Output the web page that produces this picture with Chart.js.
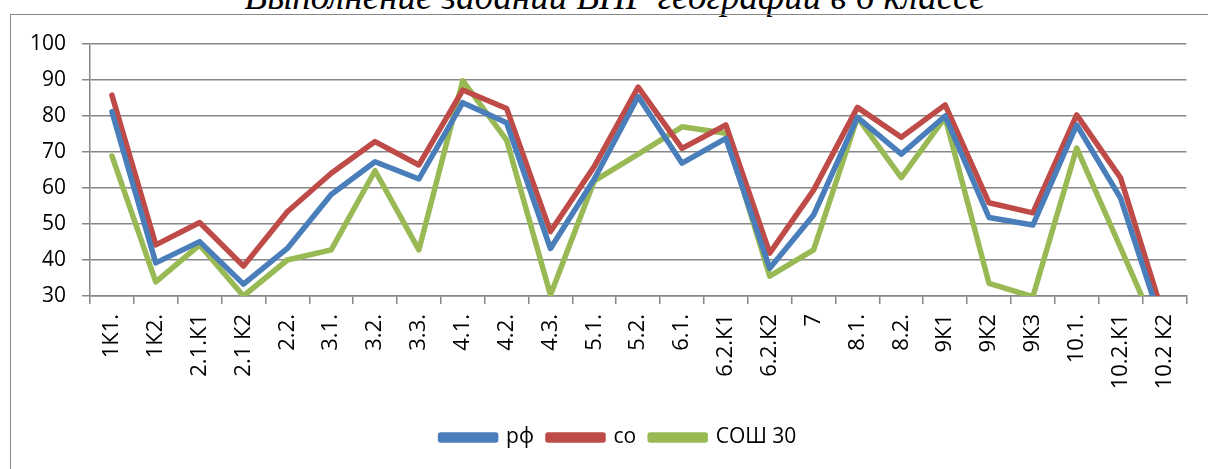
<!DOCTYPE html>
<html>
<head>
<meta charset="utf-8">
<script src="https://cdn.jsdelivr.net/npm/chart.js@4"></script>
<style>
  body { margin: 0; background: #fff; overflow: hidden; }
  #title {
    position: absolute; left: 0; width: 1230px; top: -22px;
    text-align: center; font: italic 37px "Liberation Serif", serif; line-height: 1;
    color: #000; white-space: nowrap;
  }
  #box {
    position: absolute; left: 10px; top: 14px; width: 1300px; height: 600px;
    border-left: 1px solid #888; border-top: 1px solid #888;
  }
  #wrap { position: absolute; left: 11px; top: 15px; width: 1190px; height: 454px; }
</style>
</head>
<body>
<div id="title">Выполнение заданий ВПР географии в 6 классе</div>
<div id="box"></div>
<div id="wrap"><canvas id="chart"></canvas></div>
<script>
const labels = ['1К1.', '1К2.', '2.1.К1', '2.1 К2', '2.2.', '3.1.', '3.2.', '3.3.', '4.1.', '4.2.',
  '4.3.', '5.1.', '5.2.', '6.1.', '6.2.К1', '6.2.К2', '7', '8.1.', '8.2.', '9К1', '9К2', '9К3',
  '10.1.', '10.2.К1', '10.2 К2'];

const rf  = [81.2, 39.2, 45.1, 33.3, 43.2, 58.2, 67.3, 62.5, 83.7, 78.1, 43.2, 62.5, 85.4,
  66.9, 73.8, 37.7, 52.5, 79.6, 69.4, 80.0, 51.8, 49.7, 77.5, 57.2, 20];
const so  = [85.8, 44.2, 50.4, 38.3, 53.4, 64.1, 72.9, 66.4, 87.2, 82.1, 47.9, 66.0, 88.0,
  71.0, 77.5, 41.9, 59.4, 82.4, 74.1, 83.1, 55.9, 53.1, 80.3, 62.8, 23.6];
const sosh30 = [68.9, 33.9, 44.2, 30.0, 40.0, 42.8, 64.8, 42.8, 89.8, 73.3, 30.3, 62.0, 69.4,
  77.0, 75.2, 35.5, 42.8, 79.6, 62.9, 79.6, 33.5, 29.8, 71.1, 43.4, 15.6];

const yTicks = { min: 30, max: 100, step: 10 };

const gridGrey = '#868686';
const font = "'Open Sans', sans-serif";

function line(label, data, color) {
  return {
    label: label,
    data: data,
    borderColor: color,
    backgroundColor: color,
    borderWidth: 5.5,
    pointRadius: 0,
    tension: 0,
    borderJoinStyle: 'round',
    borderCapStyle: 'round'
  };
}

// легенда в оригинале чуть правее центра
const legendShift = {
  id: 'legendShift',
  afterLayout(c) {
    c.legend.left += 17;
    c.legend.right += 17;
  }
};

const ctx = document.getElementById('chart').getContext('2d');
const chart = new Chart(ctx, {
  type: 'line',
  data: {
    labels: labels,
    datasets: [
      line('рф', rf, '#4A7EBB'),
      line('со', so, '#BE4B48'),
      line('СОШ 30', sosh30, '#98B954')
    ]
  },
  plugins: [legendShift],
  options: {
    responsive: true,
    maintainAspectRatio: false,
    animation: false,
    layout: { padding: { left: 0, right: 9, top: 29, bottom: 11 } },
    plugins: {
      tooltip: { enabled: false },
      legend: {
        position: 'bottom',
        labels: {
          boxWidth: 55,
          boxHeight: 5,
          padding: 14,
          color: '#000',
          font: { family: font, size: 21 }
        }
      }
    },
    scales: {
      x: {
        offset: true,
        afterFit: (s) => { s.height = 117; },
        grid: { drawOnChartArea: false, color: gridGrey, lineWidth: 1.5, tickLength: 8, offset: true },
        border: { color: gridGrey, width: 1.5 },
        ticks: {
          autoSkip: false, maxRotation: 90, minRotation: 90, padding: 10,
          color: '#000', font: { family: font, size: 22 }
        }
      },
      y: {
        min: yTicks.min,
        max: yTicks.max,
        afterFit: (s) => { s.width = 79; },
        grid: { color: gridGrey, lineWidth: 1.5, tickLength: 8 },
        border: { color: gridGrey, width: 1.5 },
        ticks: {
          stepSize: yTicks.step, padding: 16,
          color: '#000', font: { family: font, size: 21 }
        }
      }
    }
  }
});
</script>
</body>
</html>
